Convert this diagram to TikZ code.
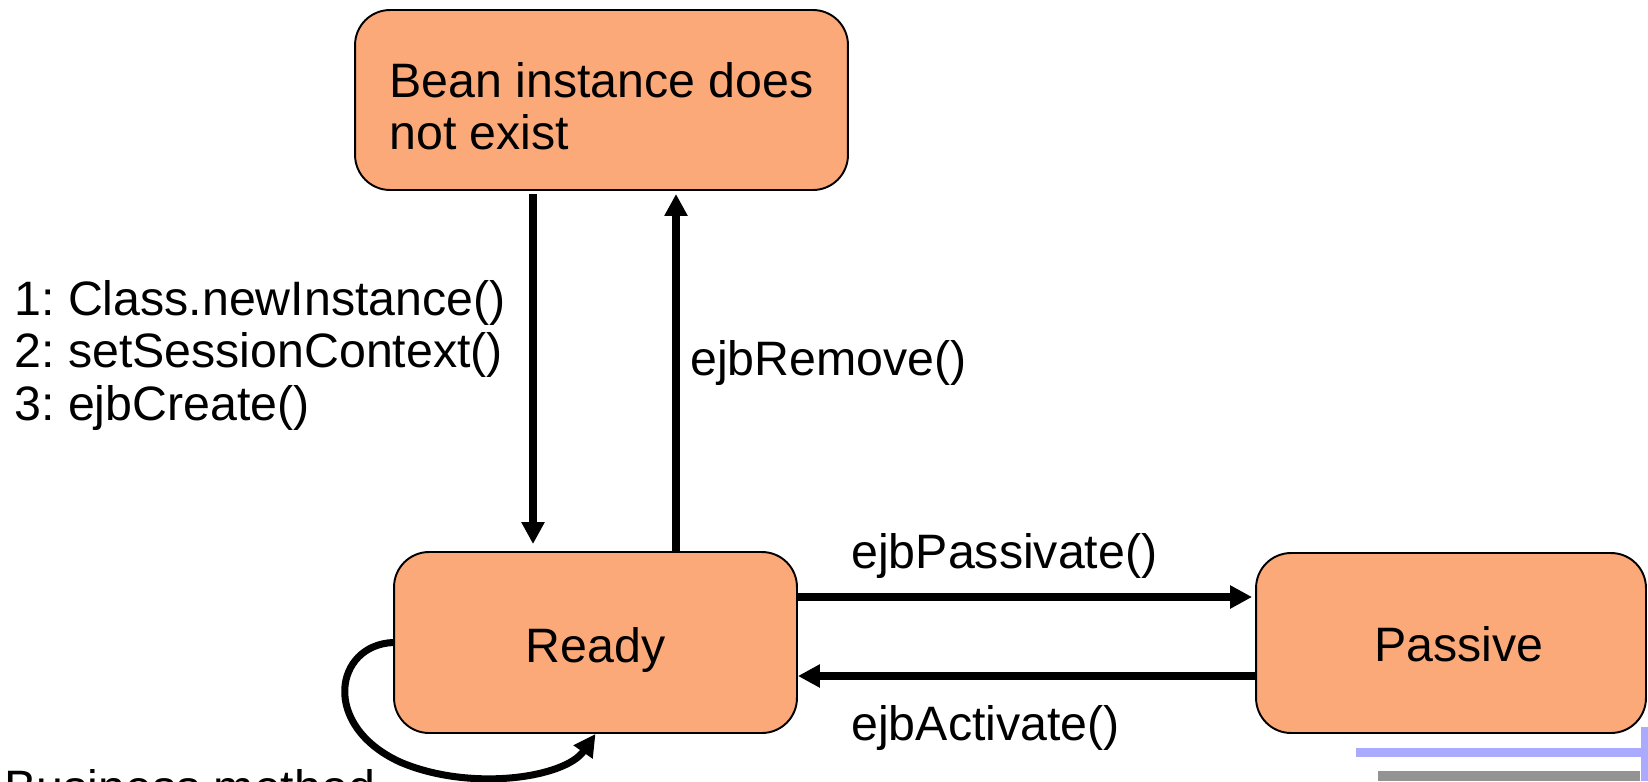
\documentclass[tikz,border=0pt]{standalone}
\usepackage{fontspec}
\setmainfont{Liberation Sans}
\frenchspacing
\usetikzlibrary{arrows.meta}
\definecolor{statefill}{RGB}{252,169,122}
\definecolor{barblue}{RGB}{170,170,255}
\definecolor{bargray}{RGB}{147,147,147}

\begin{document}
\begin{tikzpicture}[x=0.02cm, y=-0.02cm,
    font=\fontsize{27.5}{29.8}\selectfont,
    state/.style={draw, line width=1.1pt, fill=statefill, rounded corners=0.7cm, align=left, inner sep=0pt},
    trans/.style={-{Triangle[length=0.44cm, width=0.44cm]}, line width=4.5pt},
    lbl/.style={anchor=base west, align=left, inner sep=0pt}]
    % Page frame
    \clip (0,0) rectangle (1648,781);

    % Bars in the corner
    \fill[barblue] (1356,748) rectangle (1648,757);
    \fill[barblue] (1641,727) rectangle (1648,781);
    \fill[bargray] (1378,771) rectangle (1640,781);

    % Define states
    \node[state, minimum width=9.86cm, minimum height=3.6cm, text height=2cm, text depth=0cm] (nobean) at (601.5,100) {Bean instance does\\not exist};
    \node[state, minimum width=8.06cm, minimum height=3.62cm, text height=0.9cm, text depth=0.12cm] (ready) at (595.5,642.5) {Ready};
    \node[state, minimum width=7.8cm, minimum height=3.6cm, text height=0.9cm, text depth=0.18cm] (passive) at (1451,643) {\hspace*{0.32cm}Passive};

    % Define points
    \coordinate (dn) at (533,0);
    \coordinate (up) at (676,0);
    \coordinate (pa) at (0,597);
    \coordinate (ac) at (0,676);

    % Draw arrows
    \draw[trans, shorten <=0.06cm, shorten >=0.14cm] (nobean.south -| dn) -- (ready.north -| dn);
    \draw[trans, shorten >=0.06cm] (ready.north -| up) -- (nobean.south -| up);
    \draw[trans, shorten >=0.06cm] (ready.east |- pa) -- (passive.west |- pa);
    \draw[trans] (passive.west |- ac) -- (ready.east |- ac);
    \draw[trans, line width=4pt] (ready.west) .. controls (335,645) and (320,725) .. (400,762) .. controls (470,792) and (565,778) .. (ready.south);

    % Label transitions
    \node[lbl] (createlbl) at (14,420) {1: Class.newInstance()\\2: setSessionContext()\\3: ejbCreate()};
    \node[lbl] (removelbl) at (690,375) {ejbRemove()};
    \node[lbl] (passlbl) at (851,568) {ejbPassivate()};
    \node[lbl] (actlbl) at (851,740) {ejbActivate()};
    \node[lbl] (bizlbl) at (4,804) {Business method};
\end{tikzpicture}
\end{document}
